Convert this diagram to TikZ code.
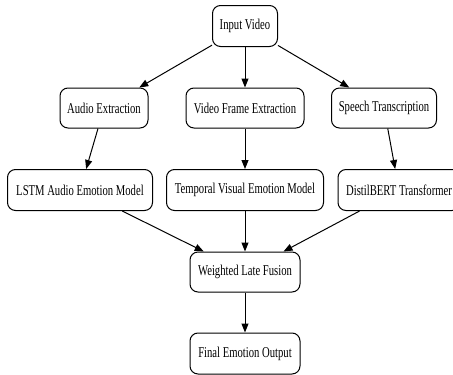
\documentclass[tikz,border=0pt]{standalone}
\usepackage{fontspec}
\setmainfont[FakeStretch=0.71]{Liberation Serif}
\usetikzlibrary{arrows.meta}
\begin{document}
\begin{tikzpicture}[x=1pt,y=-1pt,
  box/.style={draw=black, line width=1pt, rounded corners=8pt, inner sep=0pt,
    minimum height=41pt, font=\fontsize{15}{17}\selectfont, fill=white},
  arr/.style={-{Triangle[length=9pt,width=7pt]}, line width=1pt}]
\useasboundingbox (0,0) rectangle (453,375);
\node[box, minimum width=65pt] (in) at (245,26) {Input Video};
\node[box, minimum width=88pt, minimum height=40pt] (ae) at (104,108) {Audio Extraction};
\node[box, minimum width=118pt, minimum height=40pt] (vf) at (245,108) {Video Frame Extraction};
\node[box, minimum width=105pt, minimum height=40pt] (st) at (384,108) {Speech Transcription};
\node[box, minimum width=145pt] (lstm) at (80,190) {LSTM Audio Emotion Model};
\node[box, minimum width=157pt] (tv) at (245,190) {Temporal Visual Emotion Model};
\node[box, minimum width=122pt] (db) at (399,190) {DistilBERT Transformer};
\node[box, minimum width=110pt, minimum height=40pt] (wf) at (245,272) {Weighted Late Fusion};
\node[box, minimum width=110pt] (fo) at (245,353.5) {Final Emotion Output};
\draw[arr] (in) -- (ae);
\draw[arr] (in) -- (vf);
\draw[arr] (in) -- (st);
\draw[arr] (ae) -- (lstm);
\draw[arr] (vf) -- (tv);
\draw[arr] (st) -- (db);
\draw[arr] (lstm) -- (wf);
\draw[arr] (tv) -- (wf);
\draw[arr] (db) -- (wf);
\draw[arr] (wf) -- (fo);
\end{tikzpicture}
\end{document}
